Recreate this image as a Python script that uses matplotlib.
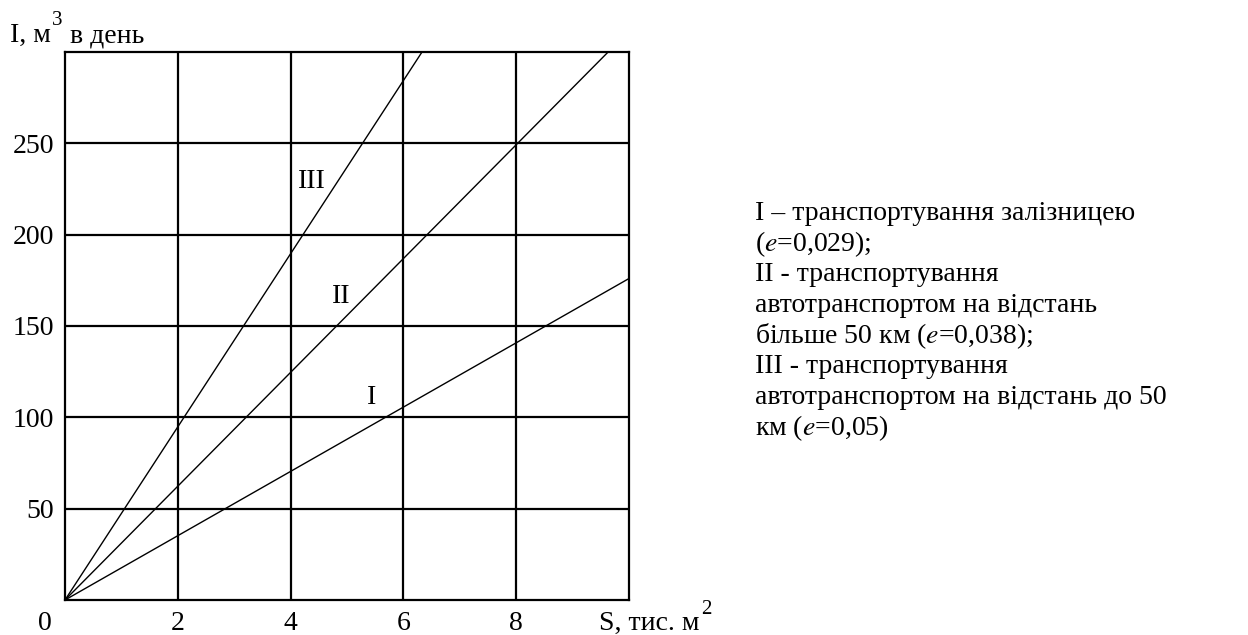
# Графік залежності I від S для трьох способів транспортування
import numpy as np
import matplotlib.pyplot as plt

plt.rcParams['font.family'] = ['Liberation Serif', 'DejaVu Serif']
plt.rcParams['mathtext.fontset'] = 'stix'

W, H = 1248, 635

# дані (кінцеві точки прямих)
S_I = [0, 10.0]
I_I = [0, 176]
S_II = [0, 9.63]
I_II = [0, 300]
S_III = [0, 6.33]
I_III = [0, 300]

names = ['I', 'II', 'III']
name_x = [5.44, 4.89, 4.37]
name_y = [111, 166, 229]

x_ticks = [2, 4, 6, 8]
y_ticks = [50, 100, 150, 200, 250]

legend_lines = [
    'I – транспортування залізницею',
    '($e$=0,029);',
    'II - транспортування',
    'автотранспортом на відстань',
    'більше 50 км ($e$=0,038);',
    'III - транспортування',
    'автотранспортом на відстань до 50',
    'км ($e$=0,05)',
]

fig = plt.figure(figsize=(W / 100, H / 100), dpi=100)
ax = fig.add_axes([65 / W, 35 / H, 564 / W, 548 / H])

for s, v in [(S_I, I_I), (S_II, I_II), (S_III, I_III)]:
    ax.plot(s, v, color='black', lw=1.0, solid_capstyle='butt')

for n, x, y in zip(names, name_x, name_y):
    ax.text(x, y, n, fontsize=20, ha='center', va='center')

ax.set_xlim(0, 10)
ax.set_ylim(0, 300)
ax.set_xticks(x_ticks)
ax.set_yticks(y_ticks)
ax.tick_params(length=0, labelsize=20, pad=8)
ax.grid(True, color='black', lw=1.6)
for sp in ax.spines.values():
    sp.set_linewidth(1.6)
    sp.set_color('black')


def px(x, y):
    # пікселі від верхнього лівого кута -> частки фігури
    return x / W, 1 - y / H


# підписи осей
fig.text(*px(45, 624), '0', fontsize=20, ha='center', va='center')
fig.text(*px(599, 630), 'S, тис. м', fontsize=20, ha='left', va='baseline')
fig.text(*px(701, 614), '2', fontsize=15, ha='left', va='baseline')

fig.text(*px(10, 42), 'I, м', fontsize=20, ha='left', va='baseline')
fig.text(*px(52, 25), '3', fontsize=15, ha='left', va='baseline')
fig.text(*px(70, 42), 'в день', fontsize=20, ha='left', va='baseline')

# пояснення до ліній
for k, line in enumerate(legend_lines):
    fig.text(*px(755, 213 + k * 30.7), line, fontsize=20, ha='left', va='center')

fig.savefig('out.png', dpi=100)
